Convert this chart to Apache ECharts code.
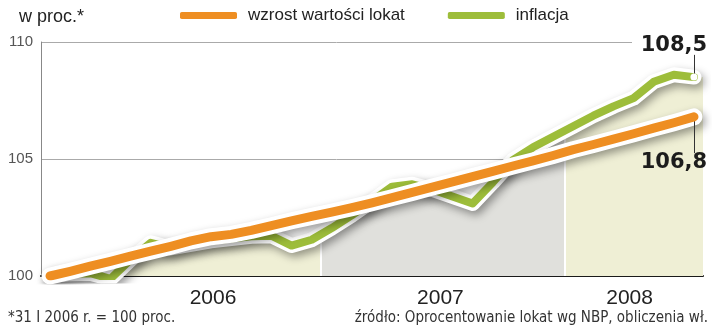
<!DOCTYPE html>
<html>
<head>
<meta charset="utf-8">
<script src="https://cdn.jsdelivr.net/npm/echarts@6/dist/echarts.min.js"></script>
<style>html,body{margin:0;padding:0;background:#fff;}#c{width:720px;height:334px;}</style>
</head>
<body>
<div id="c"></div>
<script>
// month-end points, 31 I 2006 .. IX 2008
const months = ['2006-01','2006-02','2006-03','2006-04','2006-05','2006-06','2006-07','2006-08','2006-09','2006-10','2006-11','2006-12',
  '2007-01','2007-02','2007-03','2007-04','2007-05','2007-06','2007-07','2007-08','2007-09','2007-10','2007-11','2007-12',
  '2008-01','2008-02','2008-03','2008-04','2008-05','2008-06','2008-07','2008-08','2008-09'];
const lokaty = [100.0,100.2,100.42,100.63,100.85,101.06,101.27,101.5,101.68,101.78,101.95,102.15,102.36,102.55,102.73,102.92,
  103.13,103.35,103.57,103.8,104.02,104.25,104.47,104.7,104.92,105.15,105.4,105.62,105.85,106.08,106.32,106.55,106.8];
const inflacja = [100.0,100.1,100.12,99.88,100.7,101.42,101.2,101.35,101.5,101.6,101.7,101.72,101.3,101.55,102.05,102.6,
  103.2,103.82,103.92,103.7,103.4,103.1,104.0,104.95,105.5,105.95,106.4,106.85,107.25,107.6,108.3,108.6,108.5];
const seriesNames = ['wzrost wartości lokat', 'inflacja'];
const yearLabels = ['2006', '2007', '2008'];
const yearLabelAt = [8.1, 19.4, 28.8];      // month-index where year label sits
const yearBounds = [13.47, 25.6];           // month-index of band boundaries
const yTicks = [100, 105, 110];
const titleText = 'w proc.*';
const footText = '*31 I 2006 r. = 100 proc.';
const sourceText = 'źródło: Oprocentowanie lokat wg NBP, obliczenia wł.';

const X_MIN = -0.45, X_MAX = 32.45;
const ORANGE = '#ee8e22', GREEN = '#9dbd3a';
const BEIGE = '#efefd5', GREY = '#e0e0dc';
const last = months.length - 1;
const fmt = v => v.toFixed(1).replace('.', ',');
const pts = arr => arr.map((v, i) => [i, v]);

const f1 = (yearBounds[0] - X_MIN) / (X_MAX - X_MIN);
const f2 = (yearBounds[1] - X_MIN) / (X_MAX - X_MIN);
const bandGradient = new echarts.graphic.LinearGradient(0, 0, 1, 0, [
  {offset: 0, color: BEIGE}, {offset: f1 - 0.0015, color: BEIGE},
  {offset: f1 - 0.0015, color: '#ffffff'}, {offset: f1 + 0.0015, color: '#ffffff'},
  {offset: f1 + 0.0015, color: GREY}, {offset: f2 - 0.0015, color: GREY},
  {offset: f2 - 0.0015, color: '#ffffff'}, {offset: f2 + 0.0015, color: '#ffffff'},
  {offset: f2 + 0.0015, color: BEIGE}, {offset: 1, color: BEIGE}
]);
const areaData = [[X_MIN, inflacja[0]]].concat(pts(inflacja), [[X_MAX, inflacja[last]]]);

const haloStyle = w => ({color: '#ffffff', width: w, cap: 'round', join: 'round',
  shadowColor: 'rgba(0,0,0,0.38)', shadowBlur: 8, shadowOffsetX: 3, shadowOffsetY: 4});

function endMarks(val, labelDy, leaderFrom, leaderTo) {
  return {
    markPoint: {
      silent: true, symbol: 'circle', symbolSize: 7,
      itemStyle: {color: '#ffffff'},
      label: {show: true, position: 'inside', offset: [-20, labelDy], formatter: () => fmt(val),
        fontFamily: 'DejaVu Sans', fontWeight: 'bold', fontSize: 21, color: '#1c1c1c'},
      data: [{coord: [last, val], value: val}]
    },
    markLine: {
      silent: true, symbol: ['none', 'none'], label: {show: false},
      lineStyle: {color: '#333', width: 1, type: 'solid'},
      data: [[{coord: [last, val + leaderFrom]}, {coord: [last, val + leaderTo]}]]
    }
  };
}

const chart = echarts.init(document.getElementById('c'), null, {renderer: 'canvas'});
chart.setOption({
  animation: false,
  backgroundColor: '#ffffff',
  textStyle: {fontFamily: 'Liberation Sans, Arial, sans-serif'},
  title: [
    {text: titleText, left: 14, top: 3, textStyle: {fontSize: 18, fontWeight: 'normal', color: '#222'}},
    {text: footText, left: 3, bottom: 3, textStyle: {fontSize: 15, fontWeight: 'normal', color: '#333',
      fontFamily: 'Liberation Sans Narrow, DejaVu Sans Condensed, Roboto Condensed, Liberation Sans'}},
    {text: sourceText, right: 7, bottom: 3, textStyle: {fontSize: 15, fontWeight: 'normal', color: '#333',
      fontFamily: 'Liberation Sans Narrow, DejaVu Sans Condensed, Roboto Condensed, Liberation Sans'}}
  ],
  legend: {
    data: seriesNames, left: 180, top: 7, padding: 0, icon: 'roundRect', itemWidth: 57, itemHeight: 7, itemGap: 43,
    selectedMode: false,
    textStyle: {fontSize: 17, color: '#222', padding: [0, 0, 0, 6]}
  },
  grid: [
    {left: 41, right: 17, top: 42, bottom: 58},
    {left: 41, right: 88, top: 42, bottom: 58}
  ],
  xAxis: [
    {gridIndex: 0, type: 'value', min: X_MIN, max: X_MAX,
      axisLine: {show: true, onZero: false, lineStyle: {color: '#1a1a1a', width: 2}},
      axisTick: {show: false}, splitLine: {show: false},
      axisLabel: {customValues: yearLabelAt, margin: 12, fontSize: 21, color: '#222',
        formatter: v => yearLabels[yearLabelAt.indexOf(v)] || ''}},
    {gridIndex: 1, type: 'value', min: 0, max: 1, show: false}
  ],
  yAxis: [
    {gridIndex: 0, type: 'value', min: yTicks[0], max: yTicks[2], interval: 5,
      axisLine: {show: true, onZero: false, lineStyle: {color: '#888', width: 1}},
      axisTick: {show: false}, axisLabel: {show: false}, splitLine: {show: false}},
    {gridIndex: 1, type: 'value', min: yTicks[0], max: yTicks[2], interval: 5,
      axisLine: {show: false}, axisTick: {show: false},
      axisLabel: {margin: 8, fontSize: 15, color: '#555'},
      splitLine: {show: true, lineStyle: {color: '#aaaaaa', width: 1}}}
  ],
  series: [
    {name: 'band', type: 'line', xAxisIndex: 0, yAxisIndex: 0, data: areaData, showSymbol: false, silent: true,
      lineStyle: {width: 0, opacity: 0}, areaStyle: {color: bandGradient, opacity: 1, origin: 'start'}, z: 1},
    {name: 'halo-inf', type: 'line', data: pts(inflacja), showSymbol: false, silent: true,
      lineStyle: haloStyle(15), z: 2},
    Object.assign({name: seriesNames[1], type: 'line', data: pts(inflacja), showSymbol: false, silent: true,
      itemStyle: {color: GREEN}, lineStyle: {color: GREEN, width: 8, cap: 'round', join: 'round'}, z: 3},
      endMarks(inflacja[last], -32, 0.14, 0.95)),
    {name: 'halo-lok', type: 'line', data: pts(lokaty), showSymbol: false, silent: true,
      lineStyle: haloStyle(17), z: 4},
    Object.assign({name: seriesNames[0], type: 'line', data: pts(lokaty), showSymbol: false, silent: true,
      itemStyle: {color: ORANGE}, lineStyle: {color: ORANGE, width: 9, cap: 'round', join: 'round'}, z: 5},
      endMarks(lokaty[last], 46, -0.14, -1.55))
  ]
});
</script>
</body>
</html>
